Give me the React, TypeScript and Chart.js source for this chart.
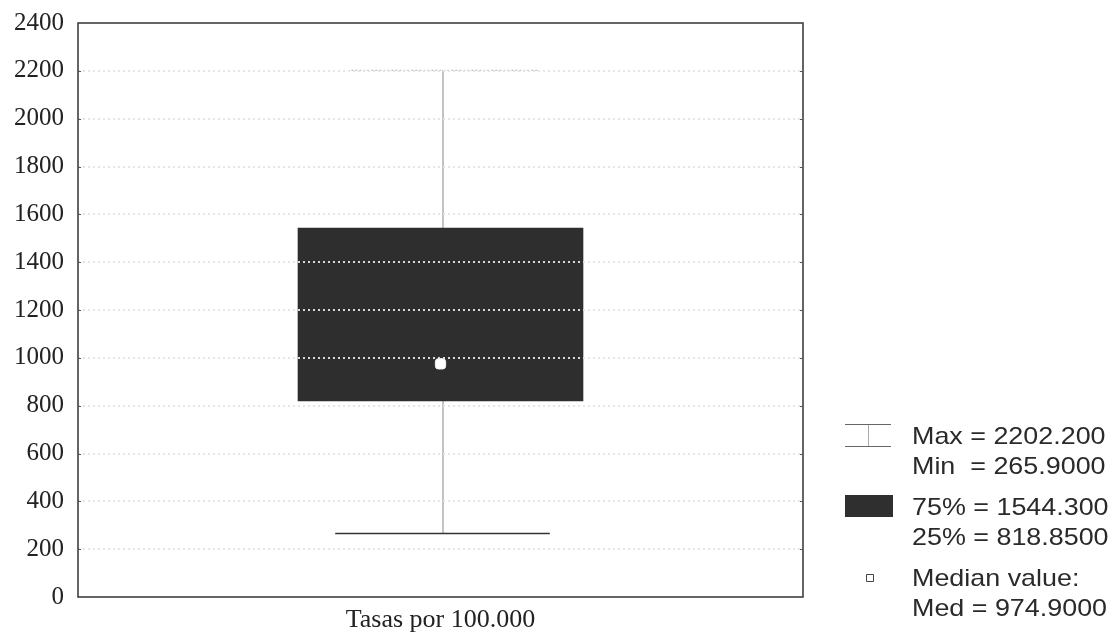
import React, { useEffect, useRef } from 'react';
import { Chart, registerables } from 'chart.js';

Chart.register(...registerables);

// ---- data ----
const categories = ['Tasas por 100.000'];
const maxValues = [2202.2];
const minValues = [265.9];
const q3Values = [1544.3];
const q1Values = [818.85];
const medianValues = [974.9];
const yMin = 0;
const yMax = 2400;
const yStep = 200;

const fmt = (v: number) => v.toPrecision(7);

const legendPlugin = {
  id: 'boxExtras',
  beforeDatasetsDraw(chart: any) {
    const { ctx } = chart;
    const x = chart.scales.x;
    const y = chart.scales.y;
    categories.forEach((c, i) => {
      const cx = x.getPixelForValue(i) + 2;
      const full = x.width;
      const yMaxP = y.getPixelForValue(maxValues[i]);
      const yMinP = y.getPixelForValue(minValues[i]);
      ctx.save();
      // whisker stem
      ctx.strokeStyle = '#8a8a8a';
      ctx.lineWidth = 1;
      ctx.beginPath();
      ctx.moveTo(cx + 0.5, yMaxP);
      ctx.lineTo(cx + 0.5, yMinP);
      ctx.stroke();
      // min cap (solid)
      const capHalf = full * 0.148;
      ctx.strokeStyle = '#333';
      ctx.lineWidth = 1.5;
      ctx.beginPath();
      ctx.moveTo(cx - capHalf, yMinP);
      ctx.lineTo(cx + capHalf, yMinP);
      ctx.stroke();
      // max cap (faint, dotted in scan)
      ctx.strokeStyle = '#b5b5b5';
      ctx.lineWidth = 1;
      ctx.setLineDash([2, 2]);
      ctx.beginPath();
      ctx.moveTo(cx - capHalf * 0.85, yMaxP);
      ctx.lineTo(cx + capHalf * 0.9, yMaxP);
      ctx.stroke();
      ctx.restore();
    });
  },
  afterDraw(chart: any) {
    const { ctx, chartArea } = chart;
    const y = chart.scales.y;
    ctx.save();
    // frame
    ctx.strokeStyle = '#333';
    ctx.lineWidth = 1.5;
    ctx.strokeRect(chartArea.left, chartArea.top, chartArea.right - chartArea.left, chartArea.bottom - chartArea.top);
    // small inner ticks
    ctx.lineWidth = 1;
    ctx.strokeStyle = '#555';
    for (let v = yMin + yStep; v < yMax; v += yStep) {
      const py = Math.round(y.getPixelForValue(v)) + 0.5;
      ctx.beginPath();
      ctx.moveTo(chartArea.left, py);
      ctx.lineTo(chartArea.left + 3, py);
      ctx.moveTo(chartArea.right, py);
      ctx.lineTo(chartArea.right - 3, py);
      ctx.stroke();
    }

    // legend text (scanned original is slightly horizontally stretched)
    const tx = 912;
    const sx = 1.12;
    ctx.save();
    ctx.translate(tx, 0);
    ctx.scale(sx, 1);
    ctx.fillStyle = '#2a2a2a';
    ctx.font = '24px "Liberation Sans", Arial, sans-serif';
    ctx.textBaseline = 'middle';
    ctx.textAlign = 'left';
    ctx.fillText('Max = ' + fmt(maxValues[0]), 0, 437);
    ctx.fillText('Min  = ' + fmt(minValues[0]), 0, 467);
    ctx.fillText('75% = ' + fmt(q3Values[0]), 0, 508);
    ctx.fillText('25% = ' + fmt(q1Values[0]), 0, 538);
    ctx.fillText('Median value:', 0, 579);
    ctx.fillText('Med = ' + fmt(medianValues[0]), 0, 609);
    ctx.restore();

    // whisker icon
    ctx.strokeStyle = '#666';
    ctx.lineWidth = 1;
    ctx.beginPath();
    ctx.moveTo(845, 424.5);
    ctx.lineTo(891, 424.5);
    ctx.moveTo(845, 446.5);
    ctx.lineTo(891, 446.5);
    ctx.stroke();
    ctx.strokeStyle = '#aaa';
    ctx.beginPath();
    ctx.moveTo(868.5, 425);
    ctx.lineTo(868.5, 446);
    ctx.stroke();
    // box icon
    ctx.fillStyle = '#2f2f2f';
    ctx.fillRect(845, 495, 48, 22);
    // median icon
    ctx.strokeStyle = '#444';
    ctx.fillStyle = '#fff';
    ctx.lineWidth = 1;
    ctx.beginPath();
    ctx.rect(866.5, 574.5, 7, 7);
    ctx.fill();
    ctx.stroke();
    ctx.restore();
  },
};

export default function App() {
  const ref = useRef<HTMLCanvasElement | null>(null);
  useEffect(() => {
    document.body.style.margin = '0';
    const canvas = ref.current!;
    const chart = new Chart(canvas, {
      type: 'bar',
      data: {
        labels: categories,
        datasets: [
          {
            type: 'line',
            label: 'Median',
            data: medianValues,
            showLine: false,
            pointStyle: 'rectRounded',
            pointRadius: 6,
            pointBackgroundColor: '#ffffff',
            pointBorderColor: '#f4f4f4',
            pointBorderWidth: 1,
            order: 0,
          } as any,
          {
            type: 'bar',
            label: 'Box',
            data: categories.map((_, i) => [q1Values[i], q3Values[i]]),
            backgroundColor: '#2e2e2e',
            borderWidth: 0,
            categoryPercentage: 1,
            barPercentage: 0.394,
            order: 1,
          } as any,
        ],
      },
      options: {
        responsive: false,
        animation: false,
        layout: { autoPadding: false, padding: { left: 0, right: 311, top: 23, bottom: 0 } },
        plugins: { legend: { display: false }, tooltip: { enabled: false } },
        scales: {
          x: {
            grid: { display: false, drawTicks: false },
            border: { display: false },
            ticks: {
              color: '#222',
              font: { family: '"Liberation Serif", "Times New Roman", serif', size: 26 },
              padding: 8,
            },
            afterFit: (s: any) => {
              s.height = 38;
              s.paddingLeft = 0;
              s.paddingRight = 0;
            },
          },
          y: {
            min: yMin,
            max: yMax,
            border: { display: false, dash: [2, 3] },
            grid: {
              z: 1,
              drawTicks: false,
              lineWidth: 2,
              color: (c: any) =>
                c.tick && (c.tick.value === yMin || c.tick.value === yMax) ? 'rgba(0,0,0,0)' : 'rgba(228,228,228,0.95)',
            } as any,
            ticks: {
              stepSize: yStep,
              color: '#222',
              font: { family: '"Liberation Serif", "Times New Roman", serif', size: 25 },
              padding: 14,
              callback: (v: any) => String(v),
            },
            afterFit: (s: any) => {
              s.width = 78;
              s.paddingTop = 0;
              s.paddingBottom = 0;
            },
          },
        },
      } as any,
      plugins: [legendPlugin],
    });
    return () => chart.destroy();
  }, []);
  return (
    <div style={{ width: 1114, height: 635 }}>
      <canvas ref={ref} width={1114} height={635} />
    </div>
  );
}
